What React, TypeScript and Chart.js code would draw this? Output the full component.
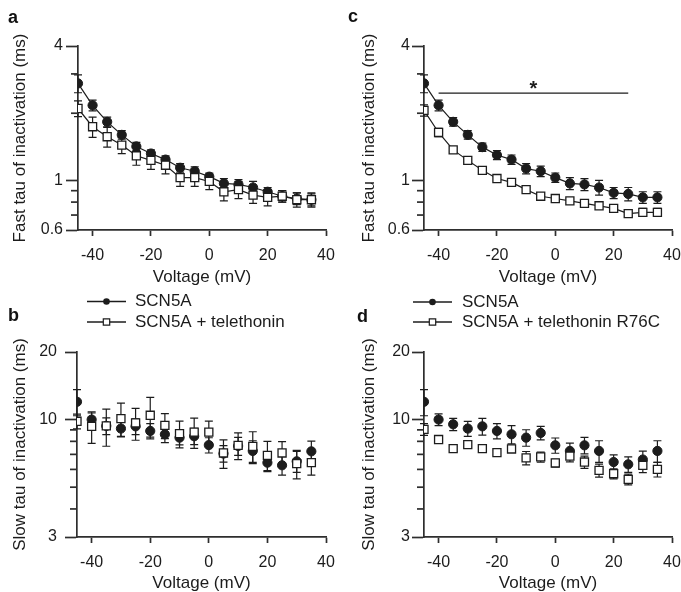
import React, { useEffect, useRef } from 'react';
import { Chart, registerables } from 'chart.js';
Chart.register(...registerables);

const FONT = "Arial, 'Liberation Sans', Helvetica, sans-serif";
const INK = '#1c1c1c';
const AXIS = '#2e2e2e';

// ---------- data ----------
const voltages = [-45, -40, -35, -30, -25, -20, -15, -10, -5, 0, 5, 10, 15, 20, 25, 30, 35];
const xTicks = [-40, -20, 0, 20, 40];
const fastTicks = [0.6, 0.7, 0.8, 0.9, 1, 2, 3, 4];
const fastLabels = [0.6, 1, 4];
const slowTicks = [3, 4, 5, 6, 7, 8, 9, 10, 20];
const slowLabels = [3, 10, 20];

// panel a: fast tau, SCN5A vs SCN5A + telethonin
const aCtrl = [2.72, 2.17, 1.83, 1.6, 1.42, 1.32, 1.24, 1.14, 1.1, 1.04, 0.97, 0.96, 0.93, 0.89, 0.85, 0.83, 0.82];
const aCtrlErr = [0.25, 0.12, 0.09, 0.07, 0.06, 0.05, 0.05, 0.05, 0.05, 0.04, 0.05, 0.05, 0.06, 0.04, 0.05, 0.05, 0.05];
const aTele = [2.1, 1.74, 1.57, 1.44, 1.29, 1.23, 1.17, 1.03, 1.03, 0.99, 0.89, 0.91, 0.86, 0.84, 0.85, 0.82, 0.82];
const aTeleErr = [0.17, 0.18, 0.16, 0.12, 0.12, 0.11, 0.1, 0.09, 0.09, 0.08, 0.08, 0.08, 0.07, 0.07, 0.05, 0.06, 0.06];

// panel c: fast tau, SCN5A vs SCN5A + telethonin R76C
const cCtrl = [2.72, 2.17, 1.83, 1.6, 1.41, 1.3, 1.24, 1.13, 1.1, 1.03, 0.97, 0.96, 0.93, 0.88, 0.87, 0.84, 0.84];
const cCtrlErr = [0.25, 0.12, 0.08, 0.07, 0.06, 0.06, 0.06, 0.06, 0.06, 0.05, 0.06, 0.06, 0.07, 0.05, 0.06, 0.05, 0.05];
const cMut = [2.06, 1.64, 1.37, 1.23, 1.11, 1.02, 0.98, 0.91, 0.85, 0.83, 0.81, 0.79, 0.77, 0.75, 0.71, 0.72, 0.72];
const cMutErr = [0.12, 0.07, 0.03, 0.02, 0.02, 0.02, 0.02, 0.02, 0.02, 0.02, 0.02, 0.02, 0.02, 0.02, 0.02, 0.03, 0.03];
const sigRange = [-40, 25];
const sigLevel = 2.46;

// panel b: slow tau, SCN5A vs SCN5A + telethonin
const bCtrl = [12.0, 10.0, 9.37, 9.12, 9.33, 8.9, 8.6, 8.31, 8.43, 7.7, 7.06, 7.63, 7.25, 6.43, 6.26, 6.52, 7.22];
const bCtrlErr = [1.6, 0.7, 0.8, 0.7, 0.75, 0.7, 0.7, 0.6, 0.7, 0.6, 0.6, 0.7, 0.8, 0.5, 0.6, 0.7, 0.8];
const bTele = [9.83, 9.33, 9.37, 10.1, 9.66, 10.45, 9.43, 8.66, 8.8, 8.8, 7.1, 7.68, 7.6, 6.93, 7.1, 6.37, 6.43];
const bTeleErr = [0.74, 1.5, 1.76, 1.73, 1.57, 2.1, 1.21, 1.18, 1.35, 1.05, 1.03, 1.05, 1.23, 1.07, 0.87, 0.93, 0.77];

// panel d: slow tau, SCN5A vs SCN5A + telethonin R76C
const dCtrl = [12.0, 10.0, 9.53, 9.12, 9.33, 8.9, 8.6, 8.31, 8.72, 7.68, 7.25, 7.68, 7.25, 6.47, 6.32, 6.64, 7.25];
const dCtrlErr = [1.6, 0.6, 0.6, 0.7, 0.8, 0.7, 0.8, 0.7, 0.6, 0.6, 0.6, 0.65, 0.8, 0.5, 0.5, 0.6, 0.8];
const dMut = [9.05, 8.15, 7.42, 7.74, 7.42, 7.13, 7.4, 6.75, 6.82, 6.41, 6.88, 6.47, 5.94, 5.74, 5.42, 6.26, 6.0];
const dMutErr = [0.54, 0.2, 0.2, 0.2, 0.2, 0.15, 0.15, 0.46, 0.35, 0.25, 0.4, 0.4, 0.4, 0.3, 0.3, 0.45, 0.45];

const nameCtrl = 'SCN5A';
const nameTele = 'SCN5A + telethonin';
const nameMut = 'SCN5A + telethonin R76C';

// ---------- panel setup ----------
type Series = { name: string; values: number[]; errors: number[]; filled: boolean };
type Spec = {
  letter: string; letterX: number; letterY: number;
  left: number; top: number; width: number; height: number;
  padTop: number; padRight: number; yWidth: number; xHeight: number;
  yTitle: string; yTitlePad: number; yTickPad: number; xTitlePadBottom: number;
  yMin: number; yMax: number; yTicks: number[]; yLabels: number[];
  connect: boolean; series: Series[];
  legend?: { lineX0: number; lineX1: number; textX: number; rows: number[] };
  sig?: boolean;
};

const FAST = 'Fast tau of inactivation (ms)';
const SLOW = 'Slow tau of inactivation (ms)';

const specs: Spec[] = [
  {
    letter: 'a', letterX: 8, letterY: 23, left: 0, top: 0, width: 340, height: 290,
    padTop: 46, padRight: 14, yWidth: 78, xHeight: 60, yTitle: FAST, yTitlePad: 10, yTickPad: 3, xTitlePadBottom: 2,
    yMin: 0.6, yMax: 4, yTicks: fastTicks, yLabels: fastLabels, connect: true,
    series: [
      { name: nameCtrl, values: aCtrl, errors: aCtrlErr, filled: true },
      { name: nameTele, values: aTele, errors: aTeleErr, filled: false },
    ],
  },
  {
    letter: 'c', letterX: 8, letterY: 22, left: 340, top: 0, width: 341, height: 290,
    padTop: 46, padRight: 9, yWidth: 84, xHeight: 60, yTitle: FAST, yTitlePad: 19, yTickPad: 2, xTitlePadBottom: 2,
    yMin: 0.6, yMax: 4, yTicks: fastTicks, yLabels: fastLabels, connect: true, sig: true,
    series: [
      { name: nameCtrl, values: cCtrl, errors: cCtrlErr, filled: true },
      { name: nameMut, values: cMut, errors: cMutErr, filled: false },
    ],
  },
  {
    letter: 'b', letterX: 8, letterY: 31, left: 0, top: 290, width: 340, height: 302,
    padTop: 62, padRight: 14, yWidth: 77, xHeight: 55, yTitle: SLOW, yTitlePad: 10, yTickPad: 8, xTitlePadBottom: -2,
    yMin: 3, yMax: 20, yTicks: slowTicks, yLabels: slowLabels, connect: false,
    legend: { lineX0: 87, lineX1: 126, textX: 135, rows: [11.5, 32] },
    series: [
      { name: nameCtrl, values: bCtrl, errors: bCtrlErr, filled: true },
      { name: nameTele, values: bTele, errors: bTeleErr, filled: false },
    ],
  },
  {
    letter: 'd', letterX: 17, letterY: 32, left: 340, top: 290, width: 341, height: 302,
    padTop: 62, padRight: 9, yWidth: 84, xHeight: 55, yTitle: SLOW, yTitlePad: 19, yTickPad: 2, xTitlePadBottom: -2,
    yMin: 3, yMax: 20, yTicks: slowTicks, yLabels: slowLabels, connect: false,
    legend: { lineX0: 73, lineX1: 112, textX: 122, rows: [12, 32] },
    series: [
      { name: nameCtrl, values: dCtrl, errors: dCtrlErr, filled: true },
      { name: nameMut, values: dMut, errors: dMutErr, filled: false },
    ],
  },
];

function drawMarker(ctx: CanvasRenderingContext2D, x: number, y: number, filled: boolean, size: number) {
  ctx.beginPath();
  if (filled) {
    ctx.arc(x, y, size, 0, Math.PI * 2);
    ctx.fillStyle = INK;
    ctx.fill();
  } else {
    ctx.rect(x - size, y - size, size * 2, size * 2);
    ctx.fillStyle = '#fff';
    ctx.fill();
    ctx.strokeStyle = INK;
    ctx.lineWidth = 1.2;
    ctx.stroke();
  }
}

function buildConfig(p: Spec): any {
  const datasets = p.series.map((s) => ({
    label: s.name,
    data: voltages.map((v, j) => ({ x: v, y: s.values[j] })),
    errors: s.errors,
    showLine: p.connect,
    borderColor: INK,
    borderWidth: 1.2,
    pointStyle: s.filled ? 'circle' : 'rect',
    pointRadius: s.filled ? 4.6 : 5.7,
    pointBackgroundColor: s.filled ? INK : '#ffffff',
    pointBorderColor: INK,
    pointBorderWidth: s.filled ? 1 : 1.3,
    order: s.filled ? 1 : 0,
  }));

  const errorBars = {
    id: 'errorBars',
    beforeDatasetsDraw(chart: any) {
      const { ctx } = chart;
      const xs = chart.scales.x;
      const ys = chart.scales.y;
      ctx.save();
      ctx.strokeStyle = INK;
      ctx.lineWidth = 1.2;
      chart.data.datasets.forEach((ds: any) => {
        ds.data.forEach((pt: any, j: number) => {
          const e = ds.errors[j];
          const px = xs.getPixelForValue(pt.x);
          const yt = ys.getPixelForValue(pt.y + e);
          const yb = ys.getPixelForValue(pt.y - e);
          ctx.beginPath();
          ctx.moveTo(px, yt);
          ctx.lineTo(px, yb);
          ctx.moveTo(px - 4, yt);
          ctx.lineTo(px + 4, yt);
          ctx.moveTo(px - 4, yb);
          ctx.lineTo(px + 4, yb);
          ctx.stroke();
        });
      });
      ctx.restore();
    },
  };

  const decor = {
    id: 'decor',
    afterDraw(chart: any) {
      const ctx: CanvasRenderingContext2D = chart.ctx;
      const ys = chart.scales.y;
      const xs = chart.scales.x;
      const axisX = chart.chartArea.left;
      ctx.save();
      // minor y ticks (short)
      ctx.strokeStyle = AXIS;
      ctx.lineWidth = 1.7;
      for (const v of p.yTicks) {
        if (p.yLabels.indexOf(v) >= 0) continue;
        const py = ys.getPixelForValue(v);
        ctx.beginPath();
        ctx.moveTo(axisX - 7, py);
        ctx.lineTo(axisX, py);
        ctx.stroke();
      }
      // panel letter
      ctx.fillStyle = '#111';
      ctx.font = `bold 18px ${FONT}`;
      ctx.textBaseline = 'alphabetic';
      ctx.textAlign = 'left';
      ctx.fillText(p.letter, p.letterX, p.letterY);
      // legend
      if (p.legend) {
        const L = p.legend;
        p.series.forEach((s, i) => {
          const y = L.rows[i];
          ctx.strokeStyle = INK;
          ctx.lineWidth = 1.5;
          ctx.beginPath();
          ctx.moveTo(L.lineX0, y);
          ctx.lineTo(L.lineX1, y);
          ctx.stroke();
          drawMarker(ctx, (L.lineX0 + L.lineX1) / 2, y, s.filled, s.filled ? 3.3 : 3.2);
          ctx.fillStyle = INK;
          ctx.font = `17px ${FONT}`;
          ctx.textBaseline = 'middle';
          ctx.textAlign = 'left';
          ctx.fillText(s.name, L.textX, y);
        });
      }
      // significance bar
      if (p.sig) {
        const x0 = xs.getPixelForValue(sigRange[0]);
        const x1 = xs.getPixelForValue(sigRange[1]);
        const y = ys.getPixelForValue(sigLevel);
        ctx.strokeStyle = INK;
        ctx.lineWidth = 1.3;
        ctx.beginPath();
        ctx.moveTo(x0, y);
        ctx.lineTo(x1, y);
        ctx.stroke();
        ctx.fillStyle = INK;
        ctx.font = `bold 20px ${FONT}`;
        ctx.textAlign = 'center';
        ctx.textBaseline = 'alphabetic';
        ctx.fillText('*', xs.getPixelForValue((sigRange[0] + sigRange[1]) / 2), y + 1.6);
      }
      ctx.restore();
    },
  };

  return {
    type: 'scatter',
    data: { datasets },
    options: {
      responsive: false,
      maintainAspectRatio: false,
      animation: false,
      devicePixelRatio: 1,
      events: [],
      layout: { padding: { top: p.padTop, right: p.padRight, left: 0, bottom: 0 } },
      plugins: { legend: { display: false }, tooltip: { enabled: false } },
      scales: {
        x: {
          type: 'linear',
          min: -45,
          max: 40,
          afterBuildTicks: (s: any) => {
            s.ticks = xTicks.map((v) => ({ value: v }));
          },
          afterFit: (s: any) => {
            s.height = p.xHeight;
            s.paddingLeft = 0;
            s.paddingRight = 0;
          },
          grid: { display: true, drawOnChartArea: false, drawTicks: true, tickLength: 6, tickColor: AXIS, tickWidth: 1.7 },
          border: { display: true, color: AXIS, width: 1.7 },
          ticks: {
            font: { size: 16, family: FONT },
            color: INK,
            padding: 9.5,
            maxRotation: 0,
            autoSkip: false,
            callback: (v: any) => String(v),
          },
          title: {
            display: true,
            text: 'Voltage (mV)',
            font: { size: 17, family: FONT },
            color: INK,
            padding: { top: 0, bottom: p.xTitlePadBottom },
          },
        },
        y: {
          type: 'logarithmic',
          min: p.yMin,
          max: p.yMax,
          afterBuildTicks: (s: any) => {
            s.ticks = p.yTicks.map((v) => ({ value: v }));
          },
          afterFit: (s: any) => {
            s.width = p.yWidth;
            s.paddingTop = 0;
            s.paddingBottom = 0;
          },
          grid: {
            display: true,
            drawOnChartArea: false,
            drawTicks: true,
            tickLength: 12,
            tickWidth: 1.7,
            tickColor: (c: any) => (c.tick && p.yLabels.indexOf(c.tick.value) >= 0 ? AXIS : 'rgba(0,0,0,0)'),
          },
          border: { display: true, color: AXIS, width: 1.7 },
          ticks: {
            font: { size: 16, family: FONT },
            color: INK,
            padding: p.yTickPad,
            autoSkip: false,
            callback: (v: any) => (p.yLabels.indexOf(v) >= 0 ? String(v) : ''),
          },
          title: {
            display: true,
            text: p.yTitle,
            font: { size: 17, family: FONT },
            color: INK,
            padding: { top: p.yTitlePad, bottom: 0 },
          },
        },
      },
    },
    plugins: [errorBars, decor],
  };
}

function Panel({ spec }: { spec: Spec }) {
  const ref = useRef<HTMLCanvasElement>(null);
  useEffect(() => {
    if (!ref.current) return;
    const chart = new Chart(ref.current, buildConfig(spec));
    return () => chart.destroy();
  }, [spec]);
  return (
    <canvas
      ref={ref}
      width={spec.width}
      height={spec.height}
      style={{ position: 'absolute', left: spec.left, top: spec.top, width: spec.width, height: spec.height }}
    />
  );
}

export default function App() {
  return (
    <div style={{ position: 'absolute', left: 0, top: 0, width: 681, height: 592, background: '#ffffff', overflow: 'hidden' }}>
      {specs.map((s) => (
        <Panel key={s.letter} spec={s} />
      ))}
    </div>
  );
}
